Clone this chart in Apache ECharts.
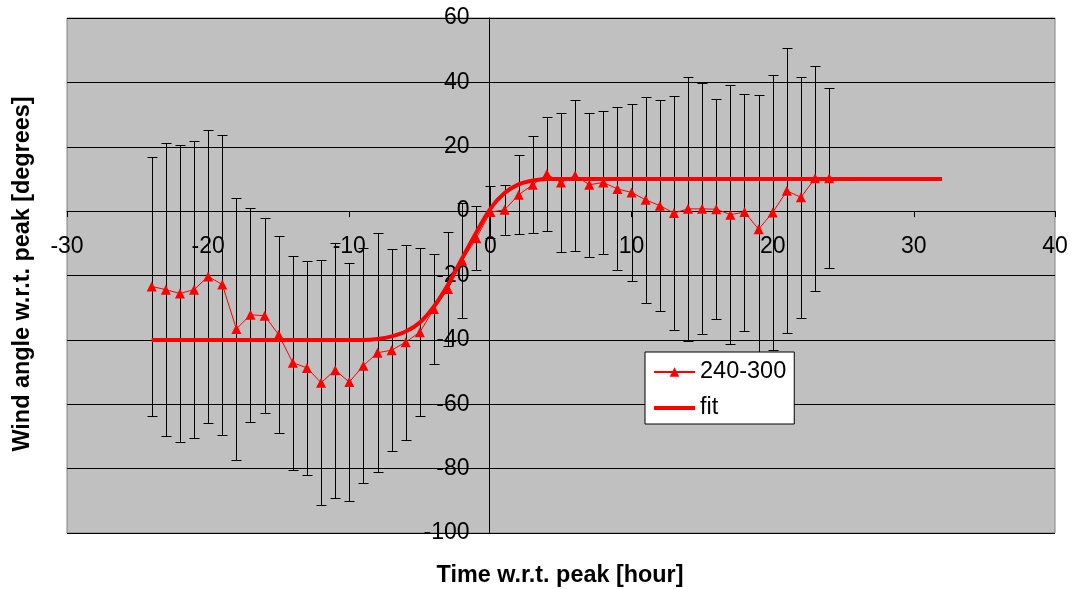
<!DOCTYPE html>
<html>
<head>
<meta charset="utf-8">
<script src="https://cdn.jsdelivr.net/npm/echarts@6/dist/echarts.min.js"></script>
<style>
html,body{margin:0;padding:0;background:#fff;}
#chart{width:1073px;height:589px;}
</style>
</head>
<body>
<div id="chart"></div>
<script>
// ---- data ----
const hours = [-24,-23,-22,-21,-20,-19,-18,-17,-16,-15,-14,-13,-12,-11,-10,-9,-8,-7,-6,-5,-4,-3,-2,-1,0,1,2,3,4,5,6,7,8,9,10,11,12,13,14,15,16,17,18,19,20,21,22,23,24];
const meanAngle = [-23.4,-24.4,-25.6,-24.4,-20.3,-22.8,-36.6,-32.2,-32.5,-38.4,-47.1,-48.7,-53.3,-49.4,-53.1,-48.0,-44.0,-43.2,-40.7,-37.6,-30.4,-24.2,-15.4,-8.4,-0.3,0.4,5.1,8.2,11.5,8.9,11.1,8.2,8.9,6.9,5.8,3.5,1.7,-0.6,0.7,0.7,0.6,-1.1,-0.3,-5.6,-0.4,6.3,4.3,10.2,10.2];
const stdAngle = [40.2,45.6,46.2,46.1,45.4,46.6,40.6,33.2,30.3,30.6,33.2,33.3,38.1,39.6,36.9,36.5,37.1,31.3,30.3,26.0,17.1,17.7,17.8,9.9,8.0,7.8,12.2,15.0,17.6,21.7,23.4,22.4,22.1,25.3,27.4,31.9,32.7,36.3,41.0,39.0,34.2,40.3,36.8,41.6,42.8,44.3,37.5,35.0,28.0];
const fitHours = [-24,-23,-22,-21,-20,-19,-18,-17,-16,-15,-14,-13,-12,-11,-10,-9,-8,-7,-6,-5,-4,-3,-2,-1,0,1,2,3,4,5,6,7,8,9,10,11,12,13,14,15,16,17,18,19,20,21,22,23,24,25,26,27,28,29,30,31,32];
const fitAngle = [-40,-40,-40,-40,-40,-40,-40,-40,-40,-40,-40,-40,-40,-40,-40,-40,-39.7,-38.9,-37.4,-34.6,-29.6,-22.8,-14.6,-6.6,0.8,5.6,8.3,9.5,10,10,10,10,10,10,10,10,10,10,10,10,10,10,10,10,10,10,10,10,10,10,10,10,10,10,10,10,10];
const xTicks = {min:-30, max:40, step:10};
const yTicks = {min:-100, max:60, step:20};
const seriesNames = ['240-300','fit'];
const xTitle = 'Time w.r.t. peak [hour]';
const yTitle = 'Wind angle w.r.t. peak [degrees]';

// ---- build ----
const FONT = '"Liberation Sans", Arial, sans-serif';
const meanData = hours.map((h,i)=>[h, meanAngle[i]]);
const errData = hours.map((h,i)=>[h, meanAngle[i]-stdAngle[i], meanAngle[i]+stdAngle[i]]);
const fitData = fitHours.map((h,i)=>[h, fitAngle[i]]);

const chart = echarts.init(document.getElementById('chart'), null, {renderer:'canvas'});
chart.setOption({
  animation:false,
  backgroundColor:'#ffffff',
  grid:{left:67, top:18, right:18, bottom:56, show:true, backgroundColor:'#C0C0C0', borderColor:'#808080', borderWidth:1},
  xAxis:{
    type:'value', min:xTicks.min, max:xTicks.max, interval:xTicks.step, position:'bottom', offset:0,
    axisLine:{onZero:false, lineStyle:{color:'#000', width:1}},
    axisTick:{show:true, inside:false, length:6, lineStyle:{color:'#000'}},
    axisLabel:{color:'#000', fontSize:23, fontFamily:FONT, margin:24, showMinLabel:true, showMaxLabel:true},
    splitLine:{show:false}
  },
  yAxis:{
    type:'value', min:yTicks.min, max:yTicks.max, interval:yTicks.step, position:'left', offset:0,
    axisLine:{show:true, onZero:false, lineStyle:{color:'#000', width:1}},
    axisTick:{show:true, inside:false, length:6, lineStyle:{color:'#000'}},
    axisLabel:{color:'#000', fontSize:23, fontFamily:FONT, margin:20, showMinLabel:true, showMaxLabel:true},
    splitLine:{show:true, lineStyle:{color:'#000', width:1}}
  },
  legend:{
    orient:'vertical', left:645, top:352,
    backgroundColor:'#ffffff', borderColor:'#000', borderWidth:1,
    padding:[8,8,4,7], itemGap:12, itemWidth:41, itemHeight:12,
    textStyle:{color:'#000', fontSize:23.5, fontFamily:FONT},
    data:[
      {name:seriesNames[0]},
      {name:seriesNames[1], lineStyle:{color:'#FF0000', width:4}, itemStyle:{color:'transparent', opacity:0, borderWidth:0}}
    ]
  },
  graphic:[
    {type:'text', x:560, y:576, style:{text:xTitle, align:'center', verticalAlign:'middle', font:'bold 23.4px '+FONT, fill:'#000'}},
    {type:'text', x:23, y:274, rotation:Math.PI/2, style:{text:yTitle, align:'center', verticalAlign:'middle', font:'bold 23.4px '+FONT, fill:'#000'}}
  ],
  series:[
    {
      type:'custom', name:'err', silent:true, z:1,
      renderItem:function(params, api){
        const x = api.value(0), lo = api.value(1), hi = api.value(2);
        const pHi = api.coord([x, hi]), pLo = api.coord([x, lo]);
        const px = Math.round(pHi[0]) + 0.5;
        const yH = Math.round(pHi[1]) + 0.5, yL = Math.round(pLo[1]) + 0.5;
        const st = {stroke:'#000', lineWidth:1};
        return {type:'group', children:[
          {type:'line', shape:{x1:px, y1:yH, x2:px, y2:yL}, style:st},
          {type:'line', shape:{x1:px-5, y1:yH, x2:px+5, y2:yH}, style:st},
          {type:'line', shape:{x1:px-5, y1:yL, x2:px+5, y2:yL}, style:st}
        ]};
      },
      encode:{x:0, y:[1,2]},
      data:errData
    },
    {
      type:'line', name:seriesNames[1], data:fitData, showSymbol:false, symbol:'none',
      smooth:0.3,
      lineStyle:{color:'#FF0000', width:4}, itemStyle:{color:'#FF0000'}, z:3
    },
    {
      type:'line', name:seriesNames[0], data:meanData, symbol:'triangle', symbolSize:10,
      lineStyle:{color:'#FF0000', width:1}, itemStyle:{color:'#FF0000'}, z:4
    }
  ]
});

// place the axes through the origin (x=0, y=0) using the chart's own scales
const origin = chart.convertToPixel({gridIndex:0}, [0, 0]);
const corner = chart.convertToPixel({gridIndex:0}, [xTicks.min, yTicks.min]);
chart.setOption({
  xAxis:{offset: -(corner[1] - origin[1])},
  yAxis:{offset: -(origin[0] - corner[0])}
});
</script>
</body>
</html>
